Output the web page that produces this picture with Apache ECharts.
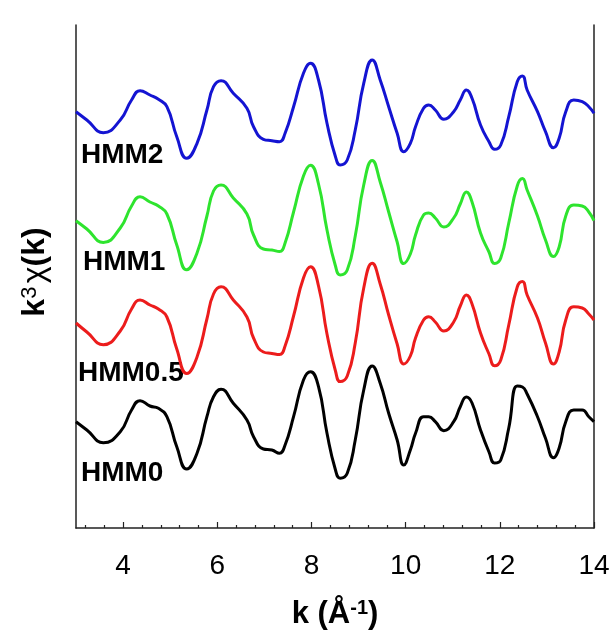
<!DOCTYPE html>
<html><head><meta charset="utf-8">
<script src="https://cdn.jsdelivr.net/npm/echarts@6/dist/echarts.min.js"></script>
<style>html,body{margin:0;padding:0;background:#fff}#c{width:614px;height:639px}</style>
</head><body><div id="c"></div>
<script>
// k values (Å^-1)
const k = [3.00,3.23,3.58,3.94,4.18,4.36,4.57,4.75,4.93,5.14,
  5.35,5.57,5.78,5.92,6.08,6.34,6.63,6.77,6.98,7.16,
  7.32,7.44,7.62,7.83,7.98,8.15,8.33,8.51,8.61,8.76,
  8.93,9.11,9.29,9.46,9.64,9.82,9.96,10.10,10.21,10.38,
  10.49,10.63,10.81,11.02,11.16,11.29,11.41,11.59,11.77,11.89,
  12.02,12.19,12.37,12.48,12.58,12.80,12.97,13.14,13.26,13.40,
  13.57,13.75,13.89,14.00];
// k^3 chi(k), offset (stacked) curves, arbitrary units
const hmm2 = [41.63,40.8,39.53,40.8,42.8,43.73,43.3,42.87,42.13,39.13,
  36.97,38.47,41.8,44.13,44.73,43.47,41.97,40.13,38.87,38.73,
  38.63,39.47,42.13,45.47,46.47,44.8,40.47,37.13,36.3,36.8,
  39.8,44.47,46.8,44.8,42.13,39.47,37.63,38.47,40.13,41.97,
  42.3,41.8,40.87,41.63,42.8,43.8,42.97,40.3,38.63,37.87,
  38.3,41.13,44.63,45.2,43.8,41.63,39.63,38.03,38.97,41.63,
  42.8,42.63,42.13,41.47];
const hmm1 = [30.73,29.9,28.55,30.0,32.2,33.12,32.6,32.2,31.4,28.3,
  25.82,27.5,31.2,33.7,34.3,33.0,31.4,29.3,27.9,27.8,
  27.64,28.5,31.6,35.2,36.27,34.4,29.8,26.2,25.3,25.8,
  29.2,34.3,36.76,34.6,31.6,28.6,26.45,27.4,29.3,31.3,
  31.5,31.0,30.1,31.0,32.4,33.6,32.6,29.5,27.6,26.45,
  27.0,30.5,34.2,34.94,33.8,31.2,28.8,27.15,28.1,31.2,
  32.3,32.2,31.6,30.73];
const hmm05 = [20.5,19.6,18.33,19.7,21.9,22.8,22.3,21.9,21.1,17.9,
  15.45,17.1,20.9,23.4,24.12,22.8,21.1,19.0,17.6,17.45,
  17.34,18.2,21.2,25.0,26.12,24.2,19.4,15.7,14.64,15.2,
  18.5,24.0,26.47,24.4,21.3,18.4,16.4,17.2,19.0,20.8,
  21.13,20.6,19.7,20.6,22.2,23.3,22.4,19.5,17.4,16.22,
  16.8,20.3,24.1,24.64,23.3,21.0,18.5,16.4,17.6,20.8,
  22.12,22.0,21.4,20.8];
const hmm0 = [10.63,9.8,8.53,9.63,11.8,12.73,12.2,11.97,11.13,8.13,
  5.9,7.47,11.13,13.13,13.87,12.47,10.8,9.13,7.9,7.8,
  7.47,8.3,11.13,14.8,15.63,14.13,9.47,5.8,4.97,5.47,
  8.8,13.8,16.2,14.47,11.47,8.8,6.3,7.8,9.47,11.13,
  11.13,10.63,9.73,10.63,12.13,13.1,12.5,9.8,7.6,6.5,
  6.8,10.0,14.2,14.1,13.4,11.13,8.97,7.03,8.0,10.63,
  11.8,11.8,11.13,10.63];
const seriesNames = ['HMM2','HMM1','HMM0.5','HMM0'];
const majorTicks = [4,6,8,10,12,14];
const minorTicks = [3.2,3.6,4.4,4.8,5.2,5.6,6.4,6.8,7.2,7.6,8.4,8.8,9.2,9.6,
  10.4,10.8,11.2,11.6,12.4,12.8,13.2,13.6];

const chart = echarts.init(document.getElementById('c'));
const colors = ['#1414d2','#2ee42e','#ec1c1c','#000000'];
const datasets = [hmm2, hmm1, hmm05, hmm0];
const FONT = 'Liberation Sans, Arial, sans-serif';
const labelPos = [[81,155],[83,262],[78,373],[81,473]];

chart.setOption({
  animation: false,
  backgroundColor: '#fff',
  grid: {left: 76, right: 20, top: 25, bottom: 111},
  xAxis: [{
    type: 'value', min: 3, max: 14,
    axisLine: {lineStyle: {color: '#222', width: 1.5}},
    axisTick: {inside: true, length: 6, customValues: majorTicks, lineStyle: {color: '#222', width: 1.2}},
    axisLabel: {customValues: majorTicks, fontSize: 28, color: '#000', fontFamily: FONT, margin: 24},
    splitLine: {show: false}
  }, {
    type: 'value', min: 3, max: 14, position: 'bottom',
    axisLine: {show: false},
    axisTick: {inside: true, length: 3, customValues: minorTicks, lineStyle: {color: '#222', width: 1.2}},
    axisLabel: {show: false},
    splitLine: {show: false}
  }],
  yAxis: [{
    type: 'value', min: 0, max: 50.3, position: 'left',
    axisLine: {show: true, lineStyle: {color: '#222', width: 1.5}},
    axisTick: {show: false}, axisLabel: {show: false}, splitLine: {show: false}
  }, {
    type: 'value', min: 0, max: 50.3, position: 'right',
    axisLine: {show: true, lineStyle: {color: '#222', width: 1.5}},
    axisTick: {show: false}, axisLabel: {show: false}, splitLine: {show: false}
  }],
  series: datasets.map((d, i) => ({
    name: seriesNames[i], type: 'line', showSymbol: false, smooth: 0.5,
    xAxisIndex: 0, yAxisIndex: 0,
    lineStyle: {color: colors[i], width: 3},
    data: k.map((x, j) => [x, d[j]])
  })),
  graphic: [
    ...seriesNames.map((n, i) => ({
      type: 'text', left: labelPos[i][0], top: labelPos[i][1] - 14,
      style: {text: n, font: 'bold 28px ' + FONT, fill: '#000'}
    })),
    {
      type: 'text', x: 35, y: 272, rotation: Math.PI / 2,
      style: {
        text: '{a|k}{s|3} {c|χ}{a|(k)}', align: 'center', verticalAlign: 'middle',
        rich: {
          a: {font: 'bold 32px ' + FONT, fill: '#000'},
          s: {font: '22px ' + FONT, fill: '#000', verticalAlign: 'top'},
          c: {font: '32px ' + FONT, fill: '#000'}
        }
      }
    },
    {
      type: 'text', x: 335, y: 614,
      style: {
        text: '{a|k (Å}{s|-1}{a|)}', align: 'center', verticalAlign: 'middle',
        rich: {
          a: {font: 'bold 31px ' + FONT, fill: '#000'},
          s: {font: 'bold 20px ' + FONT, fill: '#000', verticalAlign: 'top'}
        }
      }
    }
  ]
});
</script></body></html>
